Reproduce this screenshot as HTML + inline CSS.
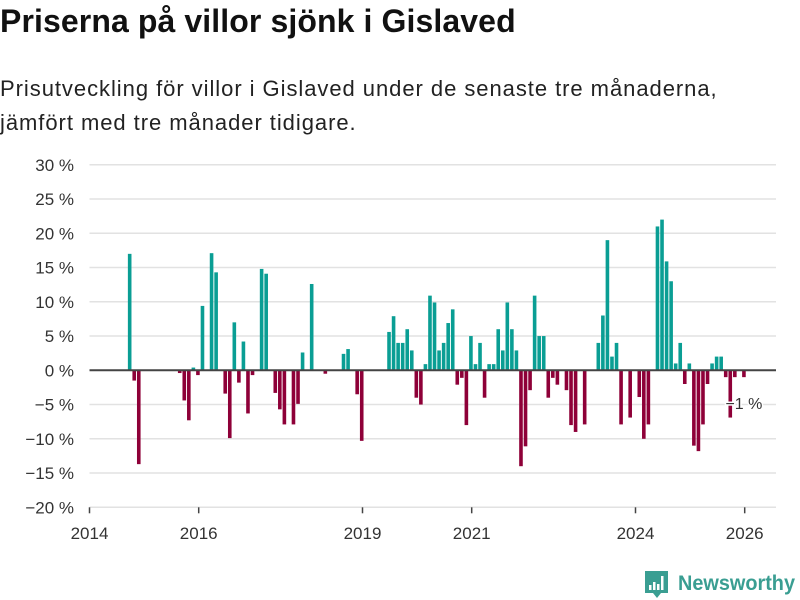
<!DOCTYPE html>
<html><head><meta charset="utf-8"><style>
body{margin:0;background:#fff;font-family:"Liberation Sans","DejaVu Sans",sans-serif;color:#111}
#wrap{position:relative;width:800px;height:600px;overflow:hidden}
h1{position:absolute;left:0;top:3px;margin:0;font-size:32px;font-weight:bold;letter-spacing:0.1px}
p.sub{position:absolute;left:0;top:72px;margin:0;font-size:22px;line-height:34px;color:#222;letter-spacing:0.95px}
svg{position:absolute;left:0;top:0}
</style></head><body>
<div id="wrap">
<h1>Priserna på villor sjönk i Gislaved</h1>
<p class="sub">Prisutveckling för villor i Gislaved under de senaste tre månaderna,<br>jämfört med tre månader tidigare.</p>
<svg id="chart" width="800" height="600"></svg>
</div>
<script>
const monthIndex=[8,9,10,19,20,21,22,23,24,26,27,29,30,31,32,33,34,35,37,38,40,41,42,44,45,46,48,51,55,56,58,59,65,66,67,68,69,70,71,72,73,74,75,76,77,78,79,80,81,82,83,84,85,86,87,88,89,90,91,92,93,94,95,96,97,98,99,100,101,102,104,105,106,108,111,112,113,114,115,116,118,120,121,122,124,125,126,127,128,129,130,131,132,133,134,135,136,137,138,139,140,141,143];
const values=[17,-1.5,-13.7,-0.4,-4.4,-7.3,0.4,-0.7,9.4,17.1,14.3,-3.4,-9.9,7.0,-1.8,4.2,-6.3,-0.7,14.8,14.1,-3.3,-5.7,-7.9,-7.9,-4.9,2.6,12.6,-0.5,2.4,3.1,-3.5,-10.3,5.6,7.9,4,4,6,2.9,-4,-5,0.9,10.9,9.9,2.9,4,6.9,8.9,-2.1,-1.1,-8,5,0.9,4,-4,0.9,0.9,6,2.9,9.9,6,2.9,-14,-11.1,-2.9,10.9,5,5,-4,-1.1,-2.1,-2.9,-8,-9,-7.9,4,8,19,2,4,-7.9,-6.9,-3.9,-10,-7.9,21,22,15.9,13,1,4,-2,1,-11,-11.8,-7.9,-2,1,2,2,-1,-6.9,-1,-1];
const yTicks=[-20,-15,-10,-5,0,5,10,15,20,25,30];
const yearTicks=[2014,2016,2019,2021,2024,2026];
const lastLabel="\u22121 %";

const NS="http://www.w3.org/2000/svg";
const svg=document.getElementById('chart');
const X0=89.5,MW=4.55,Y0=370.3,YS=6.85,XR=776;
const x=m=>X0+m*MW;
const y=v=>Y0-v*YS;
function mk(t,a){const e=document.createElementNS(NS,t);for(const k in a)e.setAttribute(k,a[k]);svg.appendChild(e);return e;}
yTicks.forEach(v=>{
  if(v!==0){const g=mk('line',{x1:X0,x2:XR,y1:y(v),y2:y(v),stroke:'#e2e2e2','stroke-width':1.5});
  
  }
  const t=mk('text',{x:74,y:y(v)+6,'text-anchor':'end','font-size':17,fill:'#333'});
  t.textContent=(v<0?'\u2212'+(-v):v)+' %';
  
  
});
yearTicks.forEach(yr=>{
  const xx=x((yr-2014)*12);
  const tk=mk('line',{x1:xx,x2:xx,y1:y(-20),y2:y(-20)+6,stroke:'#444','stroke-width':1.5});
  
  
  const t=mk('text',{x:xx,y:539,'text-anchor':'middle','font-size':17,fill:'#333'});
  t.textContent=yr;
  
  
});
monthIndex.forEach((m,i)=>{
  const v=values[i];
  const cx=x(m+0.5)+1.5;
  const r=mk('rect',{x:cx-1.8,width:3.6,y:v>=0?y(v):Y0,height:Math.abs(v)*YS,fill:v>=0?'#0a9e94':'#8e0038'});
  
  
});
const z=mk('line',{x1:X0,x2:XR,y1:Y0,y2:Y0,stroke:'#444','stroke-width':2});


const li=monthIndex.length-1;
const lab=mk('text',{x:x(monthIndex[li]+0.5)+1.5,y:y(values[li])+32,'text-anchor':'middle','font-size':16,fill:'#333',stroke:'#fff','stroke-width':3,'paint-order':'stroke'});
lab.textContent=lastLabel;


</script>
<svg width="800" height="600" style="position:absolute;left:0;top:0;pointer-events:none">
<path d="M645 571 h23 v22 h-7 l-4 5 l-4 -5 h-8 z" fill="#3a9e92"/>
<rect x="649" y="585" width="2.5" height="5" fill="#fff"/><rect x="653" y="582" width="2.5" height="8" fill="#fff"/><rect x="657" y="584" width="2.5" height="6" fill="#fff"/><rect x="661" y="576" width="2.5" height="14" fill="#fff"/>
<text x="678" y="590" font-size="21" font-weight="bold" fill="#3a9e92" textLength="117" lengthAdjust="spacingAndGlyphs" font-family="Liberation Sans, sans-serif">Newsworthy</text>
</svg>
</body></html>
